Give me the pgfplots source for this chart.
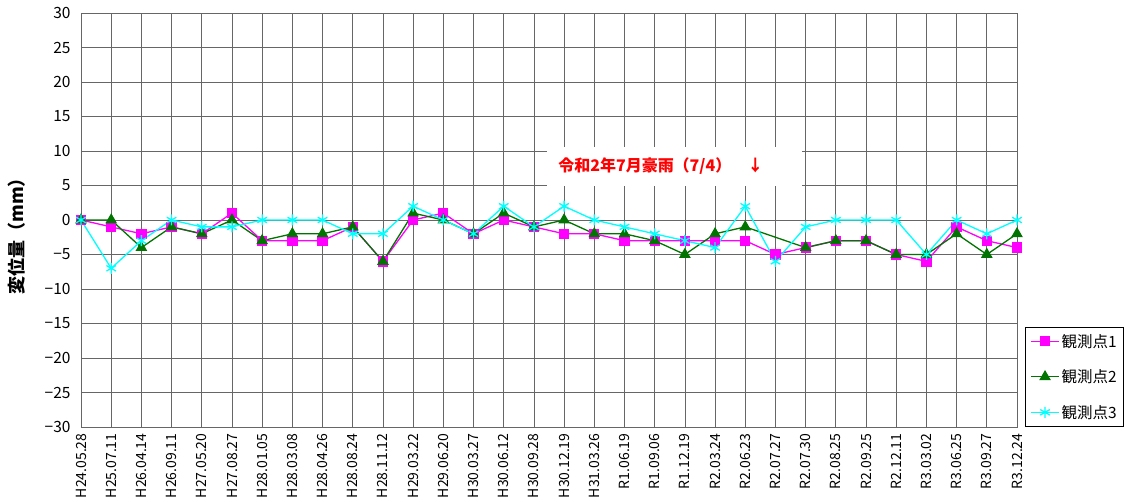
\documentclass[border=0pt]{standalone}
\usepackage{pgfplots}
\pgfplotsset{compat=1.18}
\usepackage{fontspec}
\setmainfont{Noto Sans CJK JP}
\definecolor{mag}{RGB}{255,0,255}
\definecolor{grn}{RGB}{0,115,0}
\definecolor{cyn}{RGB}{0,255,255}
\begin{document}
\begin{tikzpicture}[x=1pt,y=1pt]
\begin{axis}[
 at={(0,0)}, anchor=south west,
 scale only axis, width=936pt, height=414pt,
 xmin=0, xmax=31, ymin=-30, ymax=30,
 xtick={0,...,31},
 xticklabels={H24.05.28,H25.07.11,H26.04.14,H26.09.11,H27.05.20,H27.08.27,H28.01.05,H28.03.08,H28.04.26,H28.08.24,H28.11.12,H29.03.22,H29.06.20,H30.03.27,H30.06.12,H30.09.28,H30.12.19,H31.03.26,R1.06.19,R1.09.06,R1.12.19,R2.03.24,R2.06.23,R2.07.27,R2.07.30,R2.08.25,R2.09.25,R2.12.11,R3.03.02,R3.06.25,R3.09.27,R3.12.24},
 xticklabel style={rotate=90, anchor=east, font=\fontsize{14}{14}\selectfont, xshift=-3pt},
 ytick={-30,-25,...,30},
 yticklabels={−30,−25,−20,−15,−10,−5,0,5,10,15,20,25,30},
 yticklabel style={font=\fontsize{15.5}{15.5}\selectfont, xshift=-7pt},
 grid=major, grid style={black!60, line width=0.7pt},
 axis line style={black!60, line width=0.7pt},
 tick style={draw=none},
 ylabel={変位量（mm）},
 ylabel style={font=\fontsize{18}{18}\selectfont\bfseries, yshift=12pt, xshift=-12pt},
 legend style={at={(1,0)}, anchor=south west, xshift=8pt, draw=black, line width=0.8pt,
   font=\fontsize{15.5}{15.5}\selectfont, row sep=17pt, inner sep=5pt, cells={anchor=west}},
 legend image code/.code={\draw[mark repeat=2,mark phase=2] plot coordinates {(0pt,0pt)(14pt,0pt)(28pt,0pt)};},
 every axis plot/.append style={line width=1.3pt},
]
\addplot[color=mag, mark=square*, mark size=4.5pt, mark options={solid}] coordinates {
(0,0)(1,-1)(2,-2)(3,-1)(4,-2)(5,1)(6,-3)(7,-3)(8,-3)(9,-1)(10,-6)(11,0)(12,1)(13,-2)(14,0)(15,-1)
(16,-2)(17,-2)(18,-3)(19,-3)(20,-3)(21,-3)(22,-3)(23,-5)(24,-4)(25,-3)(26,-3)(27,-5)(28,-6)(29,-1)(30,-3)(31,-4)};
\addlegendentry{観測点1}
\addplot[color=grn, mark=triangle*, mark size=5.5pt] coordinates {
(0,0)(1,0)(2,-4)(3,-1)(4,-2)(5,0)(6,-3)(7,-2)(8,-2)(9,-1)(10,-6)(11,1)(12,0)(13,-2)(14,1)(15,-1)
(16,0)(17,-2)(18,-2)(19,-3)(20,-5)(21,-2)(22,-1)(24,-4)(25,-3)(26,-3)(27,-5)(28,-5)(29,-2)(30,-5)(31,-2)};
\addlegendentry{観測点2}
\addplot[color=cyn, mark=asterisk, mark size=5.5pt] coordinates {
(0,0)(1,-7)(2,-3)(3,0)(4,-1)(5,-1)(6,0)(7,0)(8,0)(9,-2)(10,-2)(11,2)(12,0)(13,-2)(14,2)(15,-1)
(16,2)(17,0)(18,-1)(19,-2)(20,-3)(21,-4)(22,2)(23,-6)(24,-1)(25,0)(26,0)(27,0)(28,-5)(29,0)(30,-2)(31,0)};
\addlegendentry{観測点3}
\node[fill=white, minimum width=255pt, minimum height=39pt, inner sep=0pt] at (axis cs:19.65,7.75) {};
\node[text=red, font=\fontsize{16}{16}\selectfont\bfseries, anchor=west, inner sep=0pt] at (axis cs:15.8,7.75) {令和2年7月豪雨（7/4）　↓};
\end{axis}
\pgfresetboundingbox
\path[use as bounding box] (-81pt,-75pt) rectangle (1051pt,427pt);
\end{tikzpicture}
\end{document}
